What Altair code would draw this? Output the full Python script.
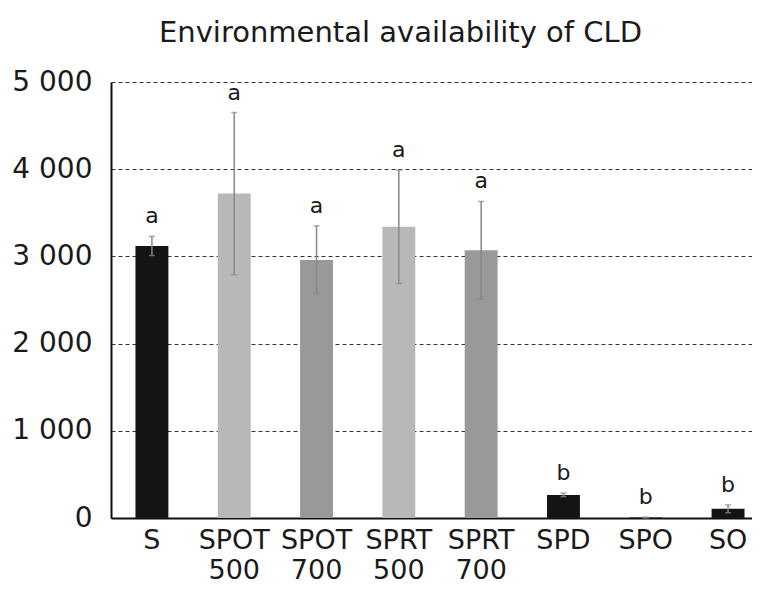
import altair as alt
import pandas as pd

categories = ["S", "SPOT 500", "SPOT 700", "SPRT 500", "SPRT 700", "SPD", "SPO", "SO"]
means = [3120, 3720, 2960, 3340, 3070, 265, 5, 105]
errors = [110, 930, 390, 650, 560, 20, 5, 45]
letters = ["a", "a", "a", "a", "a", "b", "b", "b"]
colors = ["#141414", "#b8b8b8", "#999999", "#b8b8b8", "#999999", "#141414", "#141414", "#141414"]
y_ticks = [0, 1000, 2000, 3000, 4000, 5000]

df = pd.DataFrame({"cat": categories, "mean": means, "err": errors,
                   "letter": letters, "color": colors})
df["lo"] = df["mean"] - df["err"]
df["hi"] = df["mean"] + df["err"]

FONT = "DejaVu Sans"

x = alt.X("cat:N", sort=categories, title=None,
          scale=alt.Scale(paddingInner=0.6, paddingOuter=0.194, align=0.766),
          axis=alt.Axis(labelAngle=0, labelFontSize=27, labelFont=FONT, labelColor="#1a1a1a",
                        labelExpr="split(datum.label, ' ')", labelLineHeight=30,
                        ticks=False, labelPadding=9, domainColor="#111", domainWidth=2,
                        grid=False))
yscale = alt.Scale(domain=[0, 5000], nice=False)

base = alt.Chart(df)

bars = base.mark_bar().encode(
    x=x,
    y=alt.Y("mean:Q", scale=yscale, title=None,
            axis=alt.Axis(values=y_ticks, labelFontSize=28, labelFont=FONT, labelColor="#1a1a1a",
                          labelExpr="replace(format(datum.value, ','), ',', ' ')",
                          ticks=False, labelPadding=19, domainColor="#111", domainWidth=2,
                          grid=True, gridColor="#333", gridDash=[4, 3], gridWidth=1)),
    color=alt.Color("color:N", scale=None),
)

rules = base.mark_rule(color="#888", strokeWidth=1.5).encode(
    x=alt.X("cat:N", sort=categories), y=alt.Y("lo:Q", scale=yscale), y2="hi:Q")

cap_lo = base.mark_tick(color="#888", size=6, thickness=1.5).encode(
    x=alt.X("cat:N", sort=categories), y=alt.Y("lo:Q", scale=yscale))
cap_hi = base.mark_tick(color="#888", size=6, thickness=1.5).encode(
    x=alt.X("cat:N", sort=categories), y=alt.Y("hi:Q", scale=yscale))

text = base.mark_text(fontSize=22, font=FONT, color="#1a1a1a", baseline="bottom", dy=-8).encode(
    x=alt.X("cat:N", sort=categories), y=alt.Y("hi:Q", scale=yscale), text="letter:N")

chart = alt.layer(bars, rules, cap_lo, cap_hi, text).properties(
    width=641, height=436,
    title=alt.TitleParams("Environmental availability of CLD", fontSize=29, font=FONT,
                          fontWeight="normal", color="#1a1a1a", anchor="middle", dx=-31, offset=20),
    autosize=alt.AutoSizeParams(type="none"),
    padding={"left": 103, "top": 74, "right": 0, "bottom": 68},
).configure_view(stroke=None)

chart.save("out.html", embed_options={"renderer": "svg", "actions": False})
